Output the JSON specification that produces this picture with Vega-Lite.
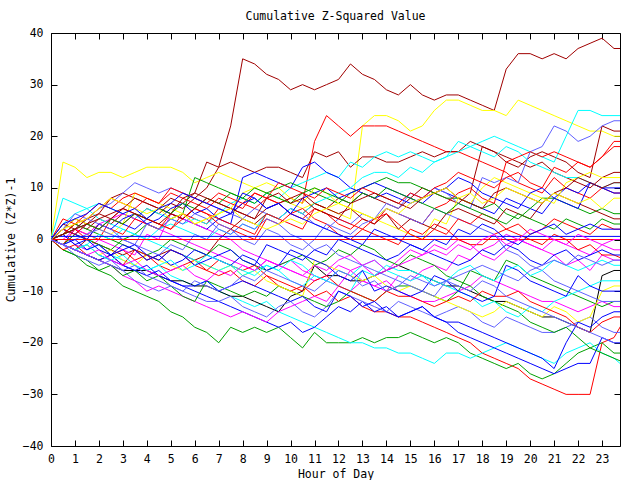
{
"$schema": "https://vega.github.io/schema/vega-lite/v6.json",
"width": 569, "height": 413,
"autosize": {"type": "none"},
"padding": {"left": 51, "top": 33, "right": 20, "bottom": 34},
"background": "white",
"title": {"text": "Cumulative Z-Squared Value", "font": "DejaVu Sans Mono", "fontSize": 11.5, "fontWeight": "normal", "color": "black", "offset": 5, "anchor": "middle"},
"config": {
  "view": {"stroke": "black", "strokeWidth": 1},
  "axis": {"labelFont": "DejaVu Sans Mono", "labelFontSize": 11.5, "titleFont": "DejaVu Sans Mono", "titleFontSize": 11.5, "titleFontWeight": "normal", "labelColor": "black", "titleColor": "black", "domain": false, "ticks": true, "tickColor": "black", "tickWidth": 1, "tickSize": 6, "offset": -6, "grid": false, "zindex": 1}
},
"data": {"values": [
{"k":1,"x":0,"y":0},{"k":1,"x":0.5,"y":1},{"k":1,"x":1,"y":3},{"k":1,"x":1.5,"y":2},{"k":1,"x":2,"y":4},{"k":1,"x":2.5,"y":3},{"k":1,"x":3,"y":5},{"k":1,"x":3.5,"y":4},{"k":1,"x":4,"y":6},{"k":1,"x":4.5,"y":5},{"k":1,"x":5,"y":7},{"k":1,"x":5.5,"y":6},{"k":1,"x":6,"y":8},{"k":1,"x":6.5,"y":10},{"k":1,"x":7,"y":14},{"k":1,"x":7.5,"y":22},{"k":1,"x":8,"y":35},{"k":1,"x":8.5,"y":34},{"k":1,"x":9,"y":32},{"k":1,"x":9.5,"y":31},{"k":1,"x":10,"y":29},{"k":1,"x":10.5,"y":30},{"k":1,"x":11,"y":29},{"k":1,"x":11.5,"y":30},{"k":1,"x":12,"y":31},{"k":1,"x":12.5,"y":34},{"k":1,"x":13,"y":32},{"k":1,"x":13.5,"y":31},{"k":1,"x":14,"y":29},{"k":1,"x":14.5,"y":28},{"k":1,"x":15,"y":30},{"k":1,"x":15.5,"y":28},{"k":1,"x":16,"y":27},{"k":1,"x":16.5,"y":28},{"k":1,"x":17,"y":28},{"k":1,"x":17.5,"y":27},{"k":1,"x":18,"y":26},{"k":1,"x":18.5,"y":25},{"k":1,"x":19,"y":33},{"k":1,"x":19.5,"y":36},{"k":1,"x":20,"y":36},{"k":1,"x":20.5,"y":35},{"k":1,"x":21,"y":36},{"k":1,"x":21.5,"y":35},{"k":1,"x":22,"y":37},{"k":1,"x":22.5,"y":38},{"k":1,"x":23,"y":39},{"k":1,"x":23.5,"y":37},{"k":1,"x":24,"y":37},
{"k":2,"x":0,"y":0},{"k":2,"x":0.5,"y":15},{"k":2,"x":1,"y":14},{"k":2,"x":1.5,"y":12},{"k":2,"x":2,"y":13},{"k":2,"x":2.5,"y":13},{"k":2,"x":3,"y":12},{"k":2,"x":3.5,"y":13},{"k":2,"x":4,"y":14},{"k":2,"x":4.5,"y":14},{"k":2,"x":5,"y":14},{"k":2,"x":5.5,"y":13},{"k":2,"x":6,"y":11},{"k":2,"x":6.5,"y":12},{"k":2,"x":7,"y":13},{"k":2,"x":7.5,"y":12},{"k":2,"x":8,"y":11},{"k":2,"x":8.5,"y":10},{"k":2,"x":9,"y":9},{"k":2,"x":9.5,"y":8},{"k":2,"x":10,"y":7},{"k":2,"x":10.5,"y":6},{"k":2,"x":11,"y":7},{"k":2,"x":11.5,"y":6},{"k":2,"x":12,"y":5},{"k":2,"x":12.5,"y":4},{"k":2,"x":13,"y":22},{"k":2,"x":13.5,"y":24},{"k":2,"x":14,"y":24},{"k":2,"x":14.5,"y":23},{"k":2,"x":15,"y":21},{"k":2,"x":15.5,"y":22},{"k":2,"x":16,"y":25},{"k":2,"x":16.5,"y":27},{"k":2,"x":17,"y":27},{"k":2,"x":17.5,"y":26},{"k":2,"x":18,"y":25},{"k":2,"x":18.5,"y":25},{"k":2,"x":19,"y":24},{"k":2,"x":19.5,"y":27},{"k":2,"x":20,"y":26},{"k":2,"x":20.5,"y":25},{"k":2,"x":21,"y":24},{"k":2,"x":21.5,"y":23},{"k":2,"x":22,"y":22},{"k":2,"x":22.5,"y":21},{"k":2,"x":23,"y":21},{"k":2,"x":23.5,"y":20},{"k":2,"x":24,"y":20},
{"k":3,"x":0,"y":0},{"k":3,"x":0.5,"y":-1},{"k":3,"x":1,"y":2},{"k":3,"x":1.5,"y":1},{"k":3,"x":2,"y":0},{"k":3,"x":2.5,"y":4},{"k":3,"x":3,"y":6},{"k":3,"x":3.5,"y":5},{"k":3,"x":4,"y":4},{"k":3,"x":4.5,"y":3},{"k":3,"x":5,"y":2},{"k":3,"x":5.5,"y":5},{"k":3,"x":6,"y":4},{"k":3,"x":6.5,"y":3},{"k":3,"x":7,"y":6},{"k":3,"x":7.5,"y":5},{"k":3,"x":8,"y":7},{"k":3,"x":8.5,"y":9},{"k":3,"x":9,"y":8},{"k":3,"x":9.5,"y":7},{"k":3,"x":10,"y":8},{"k":3,"x":10.5,"y":7},{"k":3,"x":11,"y":19},{"k":3,"x":11.5,"y":24},{"k":3,"x":12,"y":22},{"k":3,"x":12.5,"y":20},{"k":3,"x":13,"y":22},{"k":3,"x":13.5,"y":22},{"k":3,"x":14,"y":22},{"k":3,"x":14.5,"y":21},{"k":3,"x":15,"y":20},{"k":3,"x":15.5,"y":19},{"k":3,"x":16,"y":18},{"k":3,"x":16.5,"y":17},{"k":3,"x":17,"y":17},{"k":3,"x":17.5,"y":16},{"k":3,"x":18,"y":15},{"k":3,"x":18.5,"y":14},{"k":3,"x":19,"y":13},{"k":3,"x":19.5,"y":11},{"k":3,"x":20,"y":10},{"k":3,"x":20.5,"y":9},{"k":3,"x":21,"y":12},{"k":3,"x":21.5,"y":10},{"k":3,"x":22,"y":9},{"k":3,"x":22.5,"y":8},{"k":3,"x":23,"y":10},{"k":3,"x":23.5,"y":9},{"k":3,"x":24,"y":9},
{"k":4,"x":0,"y":0},{"k":4,"x":0.5,"y":2},{"k":4,"x":1,"y":4},{"k":4,"x":1.5,"y":3},{"k":4,"x":2,"y":5},{"k":4,"x":2.5,"y":8},{"k":4,"x":3,"y":9},{"k":4,"x":3.5,"y":8},{"k":4,"x":4,"y":7},{"k":4,"x":4.5,"y":6},{"k":4,"x":5,"y":8},{"k":4,"x":5.5,"y":7},{"k":4,"x":6,"y":9},{"k":4,"x":6.5,"y":15},{"k":4,"x":7,"y":14},{"k":4,"x":7.5,"y":15},{"k":4,"x":8,"y":14},{"k":4,"x":8.5,"y":13},{"k":4,"x":9,"y":14},{"k":4,"x":9.5,"y":14},{"k":4,"x":10,"y":13},{"k":4,"x":10.5,"y":12},{"k":4,"x":11,"y":17},{"k":4,"x":11.5,"y":16},{"k":4,"x":12,"y":17},{"k":4,"x":12.5,"y":14},{"k":4,"x":13,"y":16},{"k":4,"x":13.5,"y":16},{"k":4,"x":14,"y":15},{"k":4,"x":14.5,"y":15},{"k":4,"x":15,"y":16},{"k":4,"x":15.5,"y":17},{"k":4,"x":16,"y":16},{"k":4,"x":16.5,"y":17},{"k":4,"x":17,"y":17},{"k":4,"x":17.5,"y":19},{"k":4,"x":18,"y":18},{"k":4,"x":18.5,"y":17},{"k":4,"x":19,"y":16},{"k":4,"x":19.5,"y":15},{"k":4,"x":20,"y":14},{"k":4,"x":20.5,"y":15},{"k":4,"x":21,"y":13},{"k":4,"x":21.5,"y":12},{"k":4,"x":22,"y":11},{"k":4,"x":22.5,"y":10},{"k":4,"x":23,"y":12},{"k":4,"x":23.5,"y":13},{"k":4,"x":24,"y":13},
{"k":5,"x":0,"y":0},{"k":5,"x":0.5,"y":-1},{"k":5,"x":1,"y":-2},{"k":5,"x":1.5,"y":0},{"k":5,"x":2,"y":-1},{"k":5,"x":2.5,"y":-2},{"k":5,"x":3,"y":-3},{"k":5,"x":3.5,"y":-2},{"k":5,"x":4,"y":-4},{"k":5,"x":4.5,"y":-3},{"k":5,"x":5,"y":-2},{"k":5,"x":5.5,"y":-3},{"k":5,"x":6,"y":-4},{"k":5,"x":6.5,"y":-3},{"k":5,"x":7,"y":0},{"k":5,"x":7.5,"y":2},{"k":5,"x":8,"y":4},{"k":5,"x":8.5,"y":3},{"k":5,"x":9,"y":5},{"k":5,"x":9.5,"y":4},{"k":5,"x":10,"y":6},{"k":5,"x":10.5,"y":5},{"k":5,"x":11,"y":7},{"k":5,"x":11.5,"y":6},{"k":5,"x":12,"y":8},{"k":5,"x":12.5,"y":7},{"k":5,"x":13,"y":9},{"k":5,"x":13.5,"y":8},{"k":5,"x":14,"y":7},{"k":5,"x":14.5,"y":6},{"k":5,"x":15,"y":8},{"k":5,"x":15.5,"y":10},{"k":5,"x":16,"y":9},{"k":5,"x":16.5,"y":8},{"k":5,"x":17,"y":7},{"k":5,"x":17.5,"y":9},{"k":5,"x":18,"y":18},{"k":5,"x":18.5,"y":17},{"k":5,"x":19,"y":15},{"k":5,"x":19.5,"y":14},{"k":5,"x":20,"y":16},{"k":5,"x":20.5,"y":17},{"k":5,"x":21,"y":16},{"k":5,"x":21.5,"y":15},{"k":5,"x":22,"y":13},{"k":5,"x":22.5,"y":12},{"k":5,"x":23,"y":22},{"k":5,"x":23.5,"y":21},{"k":5,"x":24,"y":21},
{"k":6,"x":0,"y":0},{"k":6,"x":0.5,"y":3},{"k":6,"x":1,"y":5},{"k":6,"x":1.5,"y":6},{"k":6,"x":2,"y":7},{"k":6,"x":2.5,"y":6},{"k":6,"x":3,"y":5},{"k":6,"x":3.5,"y":4},{"k":6,"x":4,"y":6},{"k":6,"x":4.5,"y":5},{"k":6,"x":5,"y":4},{"k":6,"x":5.5,"y":3},{"k":6,"x":6,"y":4},{"k":6,"x":6.5,"y":3},{"k":6,"x":7,"y":5},{"k":6,"x":7.5,"y":7},{"k":6,"x":8,"y":8},{"k":6,"x":8.5,"y":7},{"k":6,"x":9,"y":9},{"k":6,"x":9.5,"y":8},{"k":6,"x":10,"y":10},{"k":6,"x":10.5,"y":11},{"k":6,"x":11,"y":12},{"k":6,"x":11.5,"y":13},{"k":6,"x":12,"y":12},{"k":6,"x":12.5,"y":15},{"k":6,"x":13,"y":14},{"k":6,"x":13.5,"y":16},{"k":6,"x":14,"y":17},{"k":6,"x":14.5,"y":16},{"k":6,"x":15,"y":17},{"k":6,"x":15.5,"y":16},{"k":6,"x":16,"y":15},{"k":6,"x":16.5,"y":16},{"k":6,"x":17,"y":17},{"k":6,"x":17.5,"y":18},{"k":6,"x":18,"y":19},{"k":6,"x":18.5,"y":20},{"k":6,"x":19,"y":19},{"k":6,"x":19.5,"y":18},{"k":6,"x":20,"y":17},{"k":6,"x":20.5,"y":16},{"k":6,"x":21,"y":15},{"k":6,"x":21.5,"y":20},{"k":6,"x":22,"y":25},{"k":6,"x":22.5,"y":25},{"k":6,"x":23,"y":24},{"k":6,"x":23.5,"y":24},{"k":6,"x":24,"y":24},
{"k":7,"x":0,"y":0},{"k":7,"x":0.5,"y":-1},{"k":7,"x":1,"y":1},{"k":7,"x":1.5,"y":0},{"k":7,"x":2,"y":-1},{"k":7,"x":2.5,"y":-3},{"k":7,"x":3,"y":-2},{"k":7,"x":3.5,"y":-4},{"k":7,"x":4,"y":-3},{"k":7,"x":4.5,"y":-5},{"k":7,"x":5,"y":-6},{"k":7,"x":5.5,"y":-5},{"k":7,"x":6,"y":-4},{"k":7,"x":6.5,"y":-6},{"k":7,"x":7,"y":-7},{"k":7,"x":7.5,"y":-6},{"k":7,"x":8,"y":-8},{"k":7,"x":8.5,"y":-9},{"k":7,"x":9,"y":-7},{"k":7,"x":9.5,"y":-9},{"k":7,"x":10,"y":-10},{"k":7,"x":10.5,"y":-9},{"k":7,"x":11,"y":-11},{"k":7,"x":11.5,"y":-10},{"k":7,"x":12,"y":-12},{"k":7,"x":12.5,"y":-11},{"k":7,"x":13,"y":-13},{"k":7,"x":13.5,"y":-14},{"k":7,"x":14,"y":-14},{"k":7,"x":14.5,"y":-15},{"k":7,"x":15,"y":-15},{"k":7,"x":15.5,"y":-16},{"k":7,"x":16,"y":-17},{"k":7,"x":16.5,"y":-18},{"k":7,"x":17,"y":-19},{"k":7,"x":17.5,"y":-20},{"k":7,"x":18,"y":-22},{"k":7,"x":18.5,"y":-23},{"k":7,"x":19,"y":-24},{"k":7,"x":19.5,"y":-25},{"k":7,"x":20,"y":-27},{"k":7,"x":20.5,"y":-28},{"k":7,"x":21,"y":-29},{"k":7,"x":21.5,"y":-30},{"k":7,"x":22,"y":-30},{"k":7,"x":22.5,"y":-30},{"k":7,"x":23,"y":-20},{"k":7,"x":23.5,"y":-19},{"k":7,"x":24,"y":-15},
{"k":8,"x":0,"y":0},{"k":8,"x":0.5,"y":-2},{"k":8,"x":1,"y":-3},{"k":8,"x":1.5,"y":-4},{"k":8,"x":2,"y":-6},{"k":8,"x":2.5,"y":-7},{"k":8,"x":3,"y":-9},{"k":8,"x":3.5,"y":-10},{"k":8,"x":4,"y":-11},{"k":8,"x":4.5,"y":-12},{"k":8,"x":5,"y":-14},{"k":8,"x":5.5,"y":-15},{"k":8,"x":6,"y":-17},{"k":8,"x":6.5,"y":-18},{"k":8,"x":7,"y":-20},{"k":8,"x":7.5,"y":-17},{"k":8,"x":8,"y":-18},{"k":8,"x":8.5,"y":-17},{"k":8,"x":9,"y":-18},{"k":8,"x":9.5,"y":-17},{"k":8,"x":10,"y":-19},{"k":8,"x":10.5,"y":-21},{"k":8,"x":11,"y":-18},{"k":8,"x":11.5,"y":-20},{"k":8,"x":12,"y":-20},{"k":8,"x":12.5,"y":-20},{"k":8,"x":13,"y":-19},{"k":8,"x":13.5,"y":-20},{"k":8,"x":14,"y":-19},{"k":8,"x":14.5,"y":-19},{"k":8,"x":15,"y":-18},{"k":8,"x":15.5,"y":-19},{"k":8,"x":16,"y":-20},{"k":8,"x":16.5,"y":-19},{"k":8,"x":17,"y":-20},{"k":8,"x":17.5,"y":-22},{"k":8,"x":18,"y":-23},{"k":8,"x":18.5,"y":-24},{"k":8,"x":19,"y":-25},{"k":8,"x":19.5,"y":-24},{"k":8,"x":20,"y":-26},{"k":8,"x":20.5,"y":-27},{"k":8,"x":21,"y":-26},{"k":8,"x":21.5,"y":-24},{"k":8,"x":22,"y":-22},{"k":8,"x":22.5,"y":-21},{"k":8,"x":23,"y":-20},{"k":8,"x":23.5,"y":-22},{"k":8,"x":24,"y":-22},
{"k":9,"x":0,"y":0},{"k":9,"x":0.5,"y":1},{"k":9,"x":1,"y":-1},{"k":9,"x":1.5,"y":-2},{"k":9,"x":2,"y":-1},{"k":9,"x":2.5,"y":-3},{"k":9,"x":3,"y":-4},{"k":9,"x":3.5,"y":-5},{"k":9,"x":4,"y":-6},{"k":9,"x":4.5,"y":-5},{"k":9,"x":5,"y":-7},{"k":9,"x":5.5,"y":-8},{"k":9,"x":6,"y":-9},{"k":9,"x":6.5,"y":-8},{"k":9,"x":7,"y":-10},{"k":9,"x":7.5,"y":-11},{"k":9,"x":8,"y":-12},{"k":9,"x":8.5,"y":-13},{"k":9,"x":9,"y":-12},{"k":9,"x":9.5,"y":-14},{"k":9,"x":10,"y":-15},{"k":9,"x":10.5,"y":-16},{"k":9,"x":11,"y":-17},{"k":9,"x":11.5,"y":-18},{"k":9,"x":12,"y":-19},{"k":9,"x":12.5,"y":-20},{"k":9,"x":13,"y":-20},{"k":9,"x":13.5,"y":-21},{"k":9,"x":14,"y":-21},{"k":9,"x":14.5,"y":-22},{"k":9,"x":15,"y":-22},{"k":9,"x":15.5,"y":-23},{"k":9,"x":16,"y":-24},{"k":9,"x":16.5,"y":-22},{"k":9,"x":17,"y":-22},{"k":9,"x":17.5,"y":-23},{"k":9,"x":18,"y":-22},{"k":9,"x":18.5,"y":-21},{"k":9,"x":19,"y":-20},{"k":9,"x":19.5,"y":-21},{"k":9,"x":20,"y":-22},{"k":9,"x":20.5,"y":-23},{"k":9,"x":21,"y":-24},{"k":9,"x":21.5,"y":-22},{"k":9,"x":22,"y":-21},{"k":9,"x":22.5,"y":-20},{"k":9,"x":23,"y":-22},{"k":9,"x":23.5,"y":-23},{"k":9,"x":24,"y":-25},
{"k":10,"x":0,"y":0},{"k":10,"x":0.5,"y":-1},{"k":10,"x":1,"y":-2},{"k":10,"x":1.5,"y":-3},{"k":10,"x":2,"y":-4},{"k":10,"x":2.5,"y":-5},{"k":10,"x":3,"y":-6},{"k":10,"x":3.5,"y":-6},{"k":10,"x":4,"y":-6},{"k":10,"x":4.5,"y":-7},{"k":10,"x":5,"y":-8},{"k":10,"x":5.5,"y":-8},{"k":10,"x":6,"y":-9},{"k":10,"x":6.5,"y":-9},{"k":10,"x":7,"y":-10},{"k":10,"x":7.5,"y":-11},{"k":10,"x":8,"y":-11},{"k":10,"x":8.5,"y":-12},{"k":10,"x":9,"y":-13},{"k":10,"x":9.5,"y":-14},{"k":10,"x":10,"y":-11},{"k":10,"x":10.5,"y":-10},{"k":10,"x":11,"y":-5},{"k":10,"x":11.5,"y":-7},{"k":10,"x":12,"y":-7},{"k":10,"x":12.5,"y":-8},{"k":10,"x":13,"y":-8},{"k":10,"x":13.5,"y":-7},{"k":10,"x":14,"y":-6},{"k":10,"x":14.5,"y":-5},{"k":10,"x":15,"y":-6},{"k":10,"x":15.5,"y":-7},{"k":10,"x":16,"y":-8},{"k":10,"x":16.5,"y":-9},{"k":10,"x":17,"y":-9},{"k":10,"x":17.5,"y":-10},{"k":10,"x":18,"y":-11},{"k":10,"x":18.5,"y":-12},{"k":10,"x":19,"y":-12},{"k":10,"x":19.5,"y":-13},{"k":10,"x":20,"y":-14},{"k":10,"x":20.5,"y":-15},{"k":10,"x":21,"y":-15},{"k":10,"x":21.5,"y":-16},{"k":10,"x":22,"y":-17},{"k":10,"x":22.5,"y":-18},{"k":10,"x":23,"y":-7},{"k":10,"x":23.5,"y":-6},{"k":10,"x":24,"y":-6},
{"k":11,"x":0,"y":0},{"k":11,"x":0.5,"y":2},{"k":11,"x":1,"y":1},{"k":11,"x":1.5,"y":3},{"k":11,"x":2,"y":2},{"k":11,"x":2.5,"y":4},{"k":11,"x":3,"y":3},{"k":11,"x":3.5,"y":2},{"k":11,"x":4,"y":4},{"k":11,"x":4.5,"y":6},{"k":11,"x":5,"y":5},{"k":11,"x":5.5,"y":4},{"k":11,"x":6,"y":3},{"k":11,"x":6.5,"y":2},{"k":11,"x":7,"y":4},{"k":11,"x":7.5,"y":3},{"k":11,"x":8,"y":12},{"k":11,"x":8.5,"y":13},{"k":11,"x":9,"y":12},{"k":11,"x":9.5,"y":11},{"k":11,"x":10,"y":10},{"k":11,"x":10.5,"y":14},{"k":11,"x":11,"y":15},{"k":11,"x":11.5,"y":13},{"k":11,"x":12,"y":12},{"k":11,"x":12.5,"y":10},{"k":11,"x":13,"y":9},{"k":11,"x":13.5,"y":8},{"k":11,"x":14,"y":9},{"k":11,"x":14.5,"y":8},{"k":11,"x":15,"y":7},{"k":11,"x":15.5,"y":8},{"k":11,"x":16,"y":10},{"k":11,"x":16.5,"y":9},{"k":11,"x":17,"y":8},{"k":11,"x":17.5,"y":7},{"k":11,"x":18,"y":6},{"k":11,"x":18.5,"y":5},{"k":11,"x":19,"y":8},{"k":11,"x":19.5,"y":7},{"k":11,"x":20,"y":6},{"k":11,"x":20.5,"y":5},{"k":11,"x":21,"y":8},{"k":11,"x":21.5,"y":10},{"k":11,"x":22,"y":9},{"k":11,"x":22.5,"y":11},{"k":11,"x":23,"y":10},{"k":11,"x":23.5,"y":10},{"k":11,"x":24,"y":10},
{"k":12,"x":0,"y":0},{"k":12,"x":0.5,"y":1},{"k":12,"x":1,"y":2},{"k":12,"x":1.5,"y":4},{"k":12,"x":2,"y":6},{"k":12,"x":2.5,"y":7},{"k":12,"x":3,"y":9},{"k":12,"x":3.5,"y":11},{"k":12,"x":4,"y":10},{"k":12,"x":4.5,"y":9},{"k":12,"x":5,"y":10},{"k":12,"x":5.5,"y":9},{"k":12,"x":6,"y":8},{"k":12,"x":6.5,"y":7},{"k":12,"x":7,"y":6},{"k":12,"x":7.5,"y":5},{"k":12,"x":8,"y":4},{"k":12,"x":8.5,"y":6},{"k":12,"x":9,"y":5},{"k":12,"x":9.5,"y":4},{"k":12,"x":10,"y":6},{"k":12,"x":10.5,"y":5},{"k":12,"x":11,"y":3},{"k":12,"x":11.5,"y":2},{"k":12,"x":12,"y":4},{"k":12,"x":12.5,"y":3},{"k":12,"x":13,"y":5},{"k":12,"x":13.5,"y":4},{"k":12,"x":14,"y":7},{"k":12,"x":14.5,"y":6},{"k":12,"x":15,"y":9},{"k":12,"x":15.5,"y":8},{"k":12,"x":16,"y":10},{"k":12,"x":16.5,"y":9},{"k":12,"x":17,"y":7},{"k":12,"x":17.5,"y":6},{"k":12,"x":18,"y":12},{"k":12,"x":18.5,"y":11},{"k":12,"x":19,"y":12},{"k":12,"x":19.5,"y":11},{"k":12,"x":20,"y":17},{"k":12,"x":20.5,"y":18},{"k":12,"x":21,"y":22},{"k":12,"x":21.5,"y":21},{"k":12,"x":22,"y":19},{"k":12,"x":22.5,"y":20},{"k":12,"x":23,"y":22},{"k":12,"x":23.5,"y":23},{"k":12,"x":24,"y":23},
{"k":13,"x":0,"y":0},{"k":13,"x":0.5,"y":-1},{"k":13,"x":1,"y":-2},{"k":13,"x":1.5,"y":-1},{"k":13,"x":2,"y":-3},{"k":13,"x":2.5,"y":-4},{"k":13,"x":3,"y":-5},{"k":13,"x":3.5,"y":-6},{"k":13,"x":4,"y":-7},{"k":13,"x":4.5,"y":-6},{"k":13,"x":5,"y":-8},{"k":13,"x":5.5,"y":-9},{"k":13,"x":6,"y":-10},{"k":13,"x":6.5,"y":-11},{"k":13,"x":7,"y":-12},{"k":13,"x":7.5,"y":-13},{"k":13,"x":8,"y":-14},{"k":13,"x":8.5,"y":-15},{"k":13,"x":9,"y":-16},{"k":13,"x":9.5,"y":-17},{"k":13,"x":10,"y":-16},{"k":13,"x":10.5,"y":-18},{"k":13,"x":11,"y":-17},{"k":13,"x":11.5,"y":-15},{"k":13,"x":12,"y":-13},{"k":13,"x":12.5,"y":-14},{"k":13,"x":13,"y":-12},{"k":13,"x":13.5,"y":-14},{"k":13,"x":14,"y":-13},{"k":13,"x":14.5,"y":-15},{"k":13,"x":15,"y":-14},{"k":13,"x":15.5,"y":-13},{"k":13,"x":16,"y":-15},{"k":13,"x":16.5,"y":-16},{"k":13,"x":17,"y":-18},{"k":13,"x":17.5,"y":-19},{"k":13,"x":18,"y":-20},{"k":13,"x":18.5,"y":-21},{"k":13,"x":19,"y":-22},{"k":13,"x":19.5,"y":-23},{"k":13,"x":20,"y":-24},{"k":13,"x":20.5,"y":-25},{"k":13,"x":21,"y":-26},{"k":13,"x":21.5,"y":-25},{"k":13,"x":22,"y":-24},{"k":13,"x":22.5,"y":-24},{"k":13,"x":23,"y":-19},{"k":13,"x":23.5,"y":-20},{"k":13,"x":24,"y":-20},
{"k":14,"x":0,"y":0},{"k":14,"x":0.5,"y":-1},{"k":14,"x":1,"y":-3},{"k":14,"x":1.5,"y":-4},{"k":14,"x":2,"y":-5},{"k":14,"x":2.5,"y":-4},{"k":14,"x":3,"y":-6},{"k":14,"x":3.5,"y":-8},{"k":14,"x":4,"y":-9},{"k":14,"x":4.5,"y":-10},{"k":14,"x":5,"y":-9},{"k":14,"x":5.5,"y":-10},{"k":14,"x":6,"y":-11},{"k":14,"x":6.5,"y":-12},{"k":14,"x":7,"y":-12},{"k":14,"x":7.5,"y":-11},{"k":14,"x":8,"y":-13},{"k":14,"x":8.5,"y":-14},{"k":14,"x":9,"y":-15},{"k":14,"x":9.5,"y":-13},{"k":14,"x":10,"y":-12},{"k":14,"x":10.5,"y":-14},{"k":14,"x":11,"y":-15},{"k":14,"x":11.5,"y":-13},{"k":14,"x":12,"y":-10},{"k":14,"x":12.5,"y":-11},{"k":14,"x":13,"y":-12},{"k":14,"x":13.5,"y":-13},{"k":14,"x":14,"y":-14},{"k":14,"x":14.5,"y":-12},{"k":14,"x":15,"y":-13},{"k":14,"x":15.5,"y":-14},{"k":14,"x":16,"y":-15},{"k":14,"x":16.5,"y":-14},{"k":14,"x":17,"y":-13},{"k":14,"x":17.5,"y":-14},{"k":14,"x":18,"y":-16},{"k":14,"x":18.5,"y":-17},{"k":14,"x":19,"y":-15},{"k":14,"x":19.5,"y":-16},{"k":14,"x":20,"y":-17},{"k":14,"x":20.5,"y":-18},{"k":14,"x":21,"y":-18},{"k":14,"x":21.5,"y":-17},{"k":14,"x":22,"y":-16},{"k":14,"x":22.5,"y":-15},{"k":14,"x":23,"y":-17},{"k":14,"x":23.5,"y":-18},{"k":14,"x":24,"y":-18},
{"k":15,"x":0,"y":0},{"k":15,"x":0.5,"y":-1},{"k":15,"x":1,"y":-2},{"k":15,"x":1.5,"y":-3},{"k":15,"x":2,"y":-4},{"k":15,"x":2.5,"y":-5},{"k":15,"x":3,"y":-7},{"k":15,"x":3.5,"y":-8},{"k":15,"x":4,"y":-10},{"k":15,"x":4.5,"y":-9},{"k":15,"x":5,"y":-10},{"k":15,"x":5.5,"y":-11},{"k":15,"x":6,"y":-12},{"k":15,"x":6.5,"y":-13},{"k":15,"x":7,"y":-14},{"k":15,"x":7.5,"y":-15},{"k":15,"x":8,"y":-14},{"k":15,"x":8.5,"y":-15},{"k":15,"x":9,"y":-16},{"k":15,"x":9.5,"y":-14},{"k":15,"x":10,"y":-13},{"k":15,"x":10.5,"y":-12},{"k":15,"x":11,"y":-11},{"k":15,"x":11.5,"y":-12},{"k":15,"x":12,"y":-9},{"k":15,"x":12.5,"y":-6},{"k":15,"x":13,"y":-5},{"k":15,"x":13.5,"y":-7},{"k":15,"x":14,"y":-6},{"k":15,"x":14.5,"y":-4},{"k":15,"x":15,"y":-2},{"k":15,"x":15.5,"y":-3},{"k":15,"x":16,"y":-1},{"k":15,"x":16.5,"y":-2},{"k":15,"x":17,"y":0},{"k":15,"x":17.5,"y":-1},{"k":15,"x":18,"y":-3},{"k":15,"x":18.5,"y":-4},{"k":15,"x":19,"y":-2},{"k":15,"x":19.5,"y":0},{"k":15,"x":20,"y":-1},{"k":15,"x":20.5,"y":-2},{"k":15,"x":21,"y":-3},{"k":15,"x":21.5,"y":-5},{"k":15,"x":22,"y":-4},{"k":15,"x":22.5,"y":-6},{"k":15,"x":23,"y":-3},{"k":15,"x":23.5,"y":-4},{"k":15,"x":24,"y":-4},
{"k":16,"x":0,"y":0},{"k":16,"x":0.5,"y":1},{"k":16,"x":1,"y":-1},{"k":16,"x":1.5,"y":-2},{"k":16,"x":2,"y":0},{"k":16,"x":2.5,"y":-1},{"k":16,"x":3,"y":-2},{"k":16,"x":3.5,"y":-3},{"k":16,"x":4,"y":1},{"k":16,"x":4.5,"y":0},{"k":16,"x":5,"y":5},{"k":16,"x":5.5,"y":4},{"k":16,"x":6,"y":3},{"k":16,"x":6.5,"y":2},{"k":16,"x":7,"y":1},{"k":16,"x":7.5,"y":0},{"k":16,"x":8,"y":-2},{"k":16,"x":8.5,"y":-3},{"k":16,"x":9,"y":-4},{"k":16,"x":9.5,"y":-5},{"k":16,"x":10,"y":-4},{"k":16,"x":10.5,"y":-6},{"k":16,"x":11,"y":-7},{"k":16,"x":11.5,"y":-8},{"k":16,"x":12,"y":-9},{"k":16,"x":12.5,"y":-10},{"k":16,"x":13,"y":-8},{"k":16,"x":13.5,"y":-9},{"k":16,"x":14,"y":-10},{"k":16,"x":14.5,"y":-7},{"k":16,"x":15,"y":-8},{"k":16,"x":15.5,"y":-6},{"k":16,"x":16,"y":-5},{"k":16,"x":16.5,"y":-6},{"k":16,"x":17,"y":-3},{"k":16,"x":17.5,"y":-4},{"k":16,"x":18,"y":-2},{"k":16,"x":18.5,"y":-1},{"k":16,"x":19,"y":1},{"k":16,"x":19.5,"y":0},{"k":16,"x":20,"y":-1},{"k":16,"x":20.5,"y":-2},{"k":16,"x":21,"y":0},{"k":16,"x":21.5,"y":-1},{"k":16,"x":22,"y":-2},{"k":16,"x":22.5,"y":-3},{"k":16,"x":23,"y":-1},{"k":16,"x":23.5,"y":-2},{"k":16,"x":24,"y":-2},
{"k":17,"x":0,"y":0},{"k":17,"x":0.5,"y":0},{"k":17,"x":1,"y":2},{"k":17,"x":1.5,"y":1},{"k":17,"x":2,"y":3},{"k":17,"x":2.5,"y":4},{"k":17,"x":3,"y":5},{"k":17,"x":3.5,"y":4},{"k":17,"x":4,"y":3},{"k":17,"x":4.5,"y":2},{"k":17,"x":5,"y":1},{"k":17,"x":5.5,"y":0},{"k":17,"x":6,"y":-1},{"k":17,"x":6.5,"y":-2},{"k":17,"x":7,"y":-3},{"k":17,"x":7.5,"y":-4},{"k":17,"x":8,"y":-5},{"k":17,"x":8.5,"y":-6},{"k":17,"x":9,"y":-4},{"k":17,"x":9.5,"y":-5},{"k":17,"x":10,"y":-6},{"k":17,"x":10.5,"y":-7},{"k":17,"x":11,"y":-8},{"k":17,"x":11.5,"y":-7},{"k":17,"x":12,"y":-5},{"k":17,"x":12.5,"y":-6},{"k":17,"x":13,"y":-8},{"k":17,"x":13.5,"y":-9},{"k":17,"x":14,"y":-8},{"k":17,"x":14.5,"y":-10},{"k":17,"x":15,"y":-11},{"k":17,"x":15.5,"y":-12},{"k":17,"x":16,"y":-12},{"k":17,"x":16.5,"y":-11},{"k":17,"x":17,"y":-10},{"k":17,"x":17.5,"y":-9},{"k":17,"x":18,"y":-7},{"k":17,"x":18.5,"y":-8},{"k":17,"x":19,"y":-9},{"k":17,"x":19.5,"y":-10},{"k":17,"x":20,"y":-11},{"k":17,"x":20.5,"y":-12},{"k":17,"x":21,"y":-12},{"k":17,"x":21.5,"y":-13},{"k":17,"x":22,"y":-14},{"k":17,"x":22.5,"y":-13},{"k":17,"x":23,"y":-12},{"k":17,"x":23.5,"y":-13},{"k":17,"x":24,"y":-13},
{"k":18,"x":0,"y":0},{"k":18,"x":0.5,"y":-1},{"k":18,"x":1,"y":1},{"k":18,"x":1.5,"y":0},{"k":18,"x":2,"y":-1},{"k":18,"x":2.5,"y":-2},{"k":18,"x":3,"y":0},{"k":18,"x":3.5,"y":1},{"k":18,"x":4,"y":3},{"k":18,"x":4.5,"y":2},{"k":18,"x":5,"y":4},{"k":18,"x":5.5,"y":5},{"k":18,"x":6,"y":12},{"k":18,"x":6.5,"y":11},{"k":18,"x":7,"y":10},{"k":18,"x":7.5,"y":9},{"k":18,"x":8,"y":8},{"k":18,"x":8.5,"y":7},{"k":18,"x":9,"y":9},{"k":18,"x":9.5,"y":10},{"k":18,"x":10,"y":11},{"k":18,"x":10.5,"y":10},{"k":18,"x":11,"y":9},{"k":18,"x":11.5,"y":8},{"k":18,"x":12,"y":7},{"k":18,"x":12.5,"y":9},{"k":18,"x":13,"y":10},{"k":18,"x":13.5,"y":11},{"k":18,"x":14,"y":12},{"k":18,"x":14.5,"y":11},{"k":18,"x":15,"y":11},{"k":18,"x":15.5,"y":10},{"k":18,"x":16,"y":9},{"k":18,"x":16.5,"y":8},{"k":18,"x":17,"y":8},{"k":18,"x":17.5,"y":7},{"k":18,"x":18,"y":6},{"k":18,"x":18.5,"y":7},{"k":18,"x":19,"y":5},{"k":18,"x":19.5,"y":4},{"k":18,"x":20,"y":6},{"k":18,"x":20.5,"y":8},{"k":18,"x":21,"y":8},{"k":18,"x":21.5,"y":7},{"k":18,"x":22,"y":6},{"k":18,"x":22.5,"y":5},{"k":18,"x":23,"y":6},{"k":18,"x":23.5,"y":5},{"k":18,"x":24,"y":5},
{"k":19,"x":0,"y":0},{"k":19,"x":0.5,"y":-2},{"k":19,"x":1,"y":-3},{"k":19,"x":1.5,"y":-5},{"k":19,"x":2,"y":-6},{"k":19,"x":2.5,"y":-5},{"k":19,"x":3,"y":-7},{"k":19,"x":3.5,"y":-6},{"k":19,"x":4,"y":-8},{"k":19,"x":4.5,"y":-7},{"k":19,"x":5,"y":-9},{"k":19,"x":5.5,"y":-11},{"k":19,"x":6,"y":-12},{"k":19,"x":6.5,"y":-8},{"k":19,"x":7,"y":-9},{"k":19,"x":7.5,"y":-10},{"k":19,"x":8,"y":-11},{"k":19,"x":8.5,"y":-10},{"k":19,"x":9,"y":-11},{"k":19,"x":9.5,"y":-9},{"k":19,"x":10,"y":-10},{"k":19,"x":10.5,"y":-11},{"k":19,"x":11,"y":-12},{"k":19,"x":11.5,"y":-13},{"k":19,"x":12,"y":-12},{"k":19,"x":12.5,"y":-10},{"k":19,"x":13,"y":-11},{"k":19,"x":13.5,"y":-12},{"k":19,"x":14,"y":-10},{"k":19,"x":14.5,"y":-9},{"k":19,"x":15,"y":-9},{"k":19,"x":15.5,"y":-10},{"k":19,"x":16,"y":-11},{"k":19,"x":16.5,"y":-12},{"k":19,"x":17,"y":-10},{"k":19,"x":17.5,"y":-6},{"k":19,"x":18,"y":-7},{"k":19,"x":18.5,"y":-8},{"k":19,"x":19,"y":-4},{"k":19,"x":19.5,"y":-5},{"k":19,"x":20,"y":-7},{"k":19,"x":20.5,"y":-8},{"k":19,"x":21,"y":-9},{"k":19,"x":21.5,"y":-10},{"k":19,"x":22,"y":-11},{"k":19,"x":22.5,"y":-12},{"k":19,"x":23,"y":-13},{"k":19,"x":23.5,"y":-12},{"k":19,"x":24,"y":-12},
{"k":20,"x":0,"y":0},{"k":20,"x":0.5,"y":1},{"k":20,"x":1,"y":3},{"k":20,"x":1.5,"y":2},{"k":20,"x":2,"y":1},{"k":20,"x":2.5,"y":0},{"k":20,"x":3,"y":-1},{"k":20,"x":3.5,"y":-2},{"k":20,"x":4,"y":-3},{"k":20,"x":4.5,"y":-2},{"k":20,"x":5,"y":0},{"k":20,"x":5.5,"y":-1},{"k":20,"x":6,"y":-2},{"k":20,"x":6.5,"y":-3},{"k":20,"x":7,"y":-1},{"k":20,"x":7.5,"y":-2},{"k":20,"x":8,"y":-4},{"k":20,"x":8.5,"y":-5},{"k":20,"x":9,"y":-6},{"k":20,"x":9.5,"y":-5},{"k":20,"x":10,"y":-4},{"k":20,"x":10.5,"y":-3},{"k":20,"x":11,"y":-5},{"k":20,"x":11.5,"y":-4},{"k":20,"x":12,"y":-2},{"k":20,"x":12.5,"y":-3},{"k":20,"x":13,"y":-1},{"k":20,"x":13.5,"y":-2},{"k":20,"x":14,"y":-4},{"k":20,"x":14.5,"y":-5},{"k":20,"x":15,"y":-3},{"k":20,"x":15.5,"y":-4},{"k":20,"x":16,"y":-5},{"k":20,"x":16.5,"y":-7},{"k":20,"x":17,"y":-8},{"k":20,"x":17.5,"y":-9},{"k":20,"x":18,"y":-11},{"k":20,"x":18.5,"y":-12},{"k":20,"x":19,"y":-13},{"k":20,"x":19.5,"y":-14},{"k":20,"x":20,"y":-16},{"k":20,"x":20.5,"y":-17},{"k":20,"x":21,"y":-18},{"k":20,"x":21.5,"y":-17},{"k":20,"x":22,"y":-19},{"k":20,"x":22.5,"y":-21},{"k":20,"x":23,"y":-22},{"k":20,"x":23.5,"y":-23},{"k":20,"x":24,"y":-24},
{"k":21,"x":0,"y":0},{"k":21,"x":0.5,"y":2},{"k":21,"x":1,"y":4},{"k":21,"x":1.5,"y":3},{"k":21,"x":2,"y":2},{"k":21,"x":2.5,"y":1},{"k":21,"x":3,"y":3},{"k":21,"x":3.5,"y":9},{"k":21,"x":4,"y":8},{"k":21,"x":4.5,"y":7},{"k":21,"x":5,"y":6},{"k":21,"x":5.5,"y":5},{"k":21,"x":6,"y":3},{"k":21,"x":6.5,"y":4},{"k":21,"x":7,"y":5},{"k":21,"x":7.5,"y":6},{"k":21,"x":8,"y":9},{"k":21,"x":8.5,"y":10},{"k":21,"x":9,"y":11},{"k":21,"x":9.5,"y":10},{"k":21,"x":10,"y":8},{"k":21,"x":10.5,"y":7},{"k":21,"x":11,"y":10},{"k":21,"x":11.5,"y":9},{"k":21,"x":12,"y":7},{"k":21,"x":12.5,"y":6},{"k":21,"x":13,"y":5},{"k":21,"x":13.5,"y":4},{"k":21,"x":14,"y":3},{"k":21,"x":14.5,"y":2},{"k":21,"x":15,"y":1},{"k":21,"x":15.5,"y":0},{"k":21,"x":16,"y":4},{"k":21,"x":16.5,"y":3},{"k":21,"x":17,"y":8},{"k":21,"x":17.5,"y":7},{"k":21,"x":18,"y":10},{"k":21,"x":18.5,"y":12},{"k":21,"x":19,"y":11},{"k":21,"x":19.5,"y":10},{"k":21,"x":20,"y":9},{"k":21,"x":20.5,"y":8},{"k":21,"x":21,"y":7},{"k":21,"x":21.5,"y":11},{"k":21,"x":22,"y":12},{"k":21,"x":22.5,"y":13},{"k":21,"x":23,"y":12},{"k":21,"x":23.5,"y":12},{"k":21,"x":24,"y":12},
{"k":22,"x":0,"y":0},{"k":22,"x":0.5,"y":-1},{"k":22,"x":1,"y":-2},{"k":22,"x":1.5,"y":-1},{"k":22,"x":2,"y":-3},{"k":22,"x":2.5,"y":-2},{"k":22,"x":3,"y":-4},{"k":22,"x":3.5,"y":-5},{"k":22,"x":4,"y":-3},{"k":22,"x":4.5,"y":-4},{"k":22,"x":5,"y":-5},{"k":22,"x":5.5,"y":-6},{"k":22,"x":6,"y":-4},{"k":22,"x":6.5,"y":-5},{"k":22,"x":7,"y":-6},{"k":22,"x":7.5,"y":-5},{"k":22,"x":8,"y":-7},{"k":22,"x":8.5,"y":-6},{"k":22,"x":9,"y":-8},{"k":22,"x":9.5,"y":-9},{"k":22,"x":10,"y":-10},{"k":22,"x":10.5,"y":-11},{"k":22,"x":11,"y":-4},{"k":22,"x":11.5,"y":-5},{"k":22,"x":12,"y":-6},{"k":22,"x":12.5,"y":-7},{"k":22,"x":13,"y":-8},{"k":22,"x":13.5,"y":-7},{"k":22,"x":14,"y":-9},{"k":22,"x":14.5,"y":-10},{"k":22,"x":15,"y":-9},{"k":22,"x":15.5,"y":-10},{"k":22,"x":16,"y":-11},{"k":22,"x":16.5,"y":-12},{"k":22,"x":17,"y":-13},{"k":22,"x":17.5,"y":-14},{"k":22,"x":18,"y":-15},{"k":22,"x":18.5,"y":-14},{"k":22,"x":19,"y":-12},{"k":22,"x":19.5,"y":-13},{"k":22,"x":20,"y":-14},{"k":22,"x":20.5,"y":-15},{"k":22,"x":21,"y":-13},{"k":22,"x":21.5,"y":-14},{"k":22,"x":22,"y":-16},{"k":22,"x":22.5,"y":-15},{"k":22,"x":23,"y":-10},{"k":22,"x":23.5,"y":-9},{"k":22,"x":24,"y":-9},
{"k":23,"x":0,"y":0},{"k":23,"x":0.5,"y":8},{"k":23,"x":1,"y":7},{"k":23,"x":1.5,"y":6},{"k":23,"x":2,"y":4},{"k":23,"x":2.5,"y":3},{"k":23,"x":3,"y":2},{"k":23,"x":3.5,"y":1},{"k":23,"x":4,"y":0},{"k":23,"x":4.5,"y":-1},{"k":23,"x":5,"y":-2},{"k":23,"x":5.5,"y":-3},{"k":23,"x":6,"y":-4},{"k":23,"x":6.5,"y":-5},{"k":23,"x":7,"y":-6},{"k":23,"x":7.5,"y":-5},{"k":23,"x":8,"y":-7},{"k":23,"x":8.5,"y":-6},{"k":23,"x":9,"y":-5},{"k":23,"x":9.5,"y":-6},{"k":23,"x":10,"y":-8},{"k":23,"x":10.5,"y":-9},{"k":23,"x":11,"y":-7},{"k":23,"x":11.5,"y":-8},{"k":23,"x":12,"y":-9},{"k":23,"x":12.5,"y":-10},{"k":23,"x":13,"y":-6},{"k":23,"x":13.5,"y":-7},{"k":23,"x":14,"y":-5},{"k":23,"x":14.5,"y":-6},{"k":23,"x":15,"y":-6},{"k":23,"x":15.5,"y":-7},{"k":23,"x":16,"y":-8},{"k":23,"x":16.5,"y":-9},{"k":23,"x":17,"y":-10},{"k":23,"x":17.5,"y":-11},{"k":23,"x":18,"y":-13},{"k":23,"x":18.5,"y":-12},{"k":23,"x":19,"y":-14},{"k":23,"x":19.5,"y":-15},{"k":23,"x":20,"y":-13},{"k":23,"x":20.5,"y":-14},{"k":23,"x":21,"y":-12},{"k":23,"x":21.5,"y":-11},{"k":23,"x":22,"y":-10},{"k":23,"x":22.5,"y":-9},{"k":23,"x":23,"y":-8},{"k":23,"x":23.5,"y":-8},{"k":23,"x":24,"y":-8},
{"k":24,"x":0,"y":0},{"k":24,"x":0.5,"y":-1},{"k":24,"x":1,"y":-2},{"k":24,"x":1.5,"y":-1},{"k":24,"x":2,"y":1},{"k":24,"x":2.5,"y":0},{"k":24,"x":3,"y":2},{"k":24,"x":3.5,"y":1},{"k":24,"x":4,"y":0},{"k":24,"x":4.5,"y":2},{"k":24,"x":5,"y":3},{"k":24,"x":5.5,"y":2},{"k":24,"x":6,"y":1},{"k":24,"x":6.5,"y":0},{"k":24,"x":7,"y":2},{"k":24,"x":7.5,"y":1},{"k":24,"x":8,"y":3},{"k":24,"x":8.5,"y":2},{"k":24,"x":9,"y":5},{"k":24,"x":9.5,"y":4},{"k":24,"x":10,"y":6},{"k":24,"x":10.5,"y":5},{"k":24,"x":11,"y":7},{"k":24,"x":11.5,"y":8},{"k":24,"x":12,"y":9},{"k":24,"x":12.5,"y":10},{"k":24,"x":13,"y":12},{"k":24,"x":13.5,"y":13},{"k":24,"x":14,"y":13},{"k":24,"x":14.5,"y":12},{"k":24,"x":15,"y":14},{"k":24,"x":15.5,"y":13},{"k":24,"x":16,"y":15},{"k":24,"x":16.5,"y":16},{"k":24,"x":17,"y":19},{"k":24,"x":17.5,"y":18},{"k":24,"x":18,"y":17},{"k":24,"x":18.5,"y":16},{"k":24,"x":19,"y":18},{"k":24,"x":19.5,"y":17},{"k":24,"x":20,"y":15},{"k":24,"x":20.5,"y":14},{"k":24,"x":21,"y":13},{"k":24,"x":21.5,"y":12},{"k":24,"x":22,"y":12},{"k":24,"x":22.5,"y":11},{"k":24,"x":23,"y":10},{"k":24,"x":23.5,"y":11},{"k":24,"x":24,"y":11},
{"k":25,"x":0,"y":0},{"k":25,"x":0.5,"y":4},{"k":25,"x":1,"y":3},{"k":25,"x":1.5,"y":5},{"k":25,"x":2,"y":7},{"k":25,"x":2.5,"y":6},{"k":25,"x":3,"y":8},{"k":25,"x":3.5,"y":9},{"k":25,"x":4,"y":8},{"k":25,"x":4.5,"y":7},{"k":25,"x":5,"y":9},{"k":25,"x":5.5,"y":8},{"k":25,"x":6,"y":7},{"k":25,"x":6.5,"y":6},{"k":25,"x":7,"y":8},{"k":25,"x":7.5,"y":7},{"k":25,"x":8,"y":6},{"k":25,"x":8.5,"y":9},{"k":25,"x":9,"y":8},{"k":25,"x":9.5,"y":7},{"k":25,"x":10,"y":5},{"k":25,"x":10.5,"y":4},{"k":25,"x":11,"y":6},{"k":25,"x":11.5,"y":5},{"k":25,"x":12,"y":3},{"k":25,"x":12.5,"y":2},{"k":25,"x":13,"y":4},{"k":25,"x":13.5,"y":3},{"k":25,"x":14,"y":6},{"k":25,"x":14.5,"y":5},{"k":25,"x":15,"y":4},{"k":25,"x":15.5,"y":3},{"k":25,"x":16,"y":6},{"k":25,"x":16.5,"y":7},{"k":25,"x":17,"y":9},{"k":25,"x":17.5,"y":10},{"k":25,"x":18,"y":8},{"k":25,"x":18.5,"y":7},{"k":25,"x":19,"y":15},{"k":25,"x":19.5,"y":16},{"k":25,"x":20,"y":17},{"k":25,"x":20.5,"y":16},{"k":25,"x":21,"y":17},{"k":25,"x":21.5,"y":16},{"k":25,"x":22,"y":15},{"k":25,"x":22.5,"y":14},{"k":25,"x":23,"y":16},{"k":25,"x":23.5,"y":19},{"k":25,"x":24,"y":19},
{"k":26,"x":0,"y":0},{"k":26,"x":0.5,"y":-2},{"k":26,"x":1,"y":-1},{"k":26,"x":1.5,"y":-3},{"k":26,"x":2,"y":-4},{"k":26,"x":2.5,"y":-3},{"k":26,"x":3,"y":-5},{"k":26,"x":3.5,"y":-2},{"k":26,"x":4,"y":-3},{"k":26,"x":4.5,"y":-4},{"k":26,"x":5,"y":-2},{"k":26,"x":5.5,"y":-3},{"k":26,"x":6,"y":-5},{"k":26,"x":6.5,"y":-6},{"k":26,"x":7,"y":-4},{"k":26,"x":7.5,"y":-5},{"k":26,"x":8,"y":-6},{"k":26,"x":8.5,"y":-5},{"k":26,"x":9,"y":-7},{"k":26,"x":9.5,"y":-8},{"k":26,"x":10,"y":-9},{"k":26,"x":10.5,"y":-10},{"k":26,"x":11,"y":-8},{"k":26,"x":11.5,"y":-7},{"k":26,"x":12,"y":-9},{"k":26,"x":12.5,"y":-10},{"k":26,"x":13,"y":-11},{"k":26,"x":13.5,"y":-12},{"k":26,"x":14,"y":-10},{"k":26,"x":14.5,"y":-11},{"k":26,"x":15,"y":-11},{"k":26,"x":15.5,"y":-12},{"k":26,"x":16,"y":-13},{"k":26,"x":16.5,"y":-12},{"k":26,"x":17,"y":-11},{"k":26,"x":17.5,"y":-12},{"k":26,"x":18,"y":-10},{"k":26,"x":18.5,"y":-11},{"k":26,"x":19,"y":-11},{"k":26,"x":19.5,"y":-10},{"k":26,"x":20,"y":-12},{"k":26,"x":20.5,"y":-13},{"k":26,"x":21,"y":-14},{"k":26,"x":21.5,"y":-15},{"k":26,"x":22,"y":-17},{"k":26,"x":22.5,"y":-18},{"k":26,"x":23,"y":-16},{"k":26,"x":23.5,"y":-15},{"k":26,"x":24,"y":-15},
{"k":27,"x":0,"y":0},{"k":27,"x":0.5,"y":1},{"k":27,"x":1,"y":2},{"k":27,"x":1.5,"y":0},{"k":27,"x":2,"y":3},{"k":27,"x":2.5,"y":2},{"k":27,"x":3,"y":1},{"k":27,"x":3.5,"y":4},{"k":27,"x":4,"y":3},{"k":27,"x":4.5,"y":2},{"k":27,"x":5,"y":5},{"k":27,"x":5.5,"y":4},{"k":27,"x":6,"y":6},{"k":27,"x":6.5,"y":5},{"k":27,"x":7,"y":3},{"k":27,"x":7.5,"y":2},{"k":27,"x":8,"y":1},{"k":27,"x":8.5,"y":0},{"k":27,"x":9,"y":4},{"k":27,"x":9.5,"y":3},{"k":27,"x":10,"y":5},{"k":27,"x":10.5,"y":6},{"k":27,"x":11,"y":4},{"k":27,"x":11.5,"y":3},{"k":27,"x":12,"y":1},{"k":27,"x":12.5,"y":0},{"k":27,"x":13,"y":2},{"k":27,"x":13.5,"y":1},{"k":27,"x":14,"y":0},{"k":27,"x":14.5,"y":-1},{"k":27,"x":15,"y":2},{"k":27,"x":15.5,"y":1},{"k":27,"x":16,"y":3},{"k":27,"x":16.5,"y":2},{"k":27,"x":17,"y":0},{"k":27,"x":17.5,"y":-1},{"k":27,"x":18,"y":-1},{"k":27,"x":18.5,"y":1},{"k":27,"x":19,"y":2},{"k":27,"x":19.5,"y":1},{"k":27,"x":20,"y":0},{"k":27,"x":20.5,"y":-1},{"k":27,"x":21,"y":1},{"k":27,"x":21.5,"y":0},{"k":27,"x":22,"y":-2},{"k":27,"x":22.5,"y":-1},{"k":27,"x":23,"y":-3},{"k":27,"x":23.5,"y":-3},{"k":27,"x":24,"y":-4},
{"k":28,"x":0,"y":0},{"k":28,"x":0.5,"y":3},{"k":28,"x":1,"y":2},{"k":28,"x":1.5,"y":4},{"k":28,"x":2,"y":5},{"k":28,"x":2.5,"y":4},{"k":28,"x":3,"y":6},{"k":28,"x":3.5,"y":8},{"k":28,"x":4,"y":7},{"k":28,"x":4.5,"y":6},{"k":28,"x":5,"y":5},{"k":28,"x":5.5,"y":8},{"k":28,"x":6,"y":9},{"k":28,"x":6.5,"y":8},{"k":28,"x":7,"y":7},{"k":28,"x":7.5,"y":6},{"k":28,"x":8,"y":5},{"k":28,"x":8.5,"y":4},{"k":28,"x":9,"y":6},{"k":28,"x":9.5,"y":7},{"k":28,"x":10,"y":8},{"k":28,"x":10.5,"y":9},{"k":28,"x":11,"y":7},{"k":28,"x":11.5,"y":6},{"k":28,"x":12,"y":5},{"k":28,"x":12.5,"y":6},{"k":28,"x":13,"y":4},{"k":28,"x":13.5,"y":3},{"k":28,"x":14,"y":5},{"k":28,"x":14.5,"y":2},{"k":28,"x":15,"y":4},{"k":28,"x":15.5,"y":3},{"k":28,"x":16,"y":2},{"k":28,"x":16.5,"y":5},{"k":28,"x":17,"y":6},{"k":28,"x":17.5,"y":5},{"k":28,"x":18,"y":4},{"k":28,"x":18.5,"y":3},{"k":28,"x":19,"y":6},{"k":28,"x":19.5,"y":5},{"k":28,"x":20,"y":4},{"k":28,"x":20.5,"y":7},{"k":28,"x":21,"y":9},{"k":28,"x":21.5,"y":8},{"k":28,"x":22,"y":7},{"k":28,"x":22.5,"y":6},{"k":28,"x":23,"y":5},{"k":28,"x":23.5,"y":4},{"k":28,"x":24,"y":4},
{"k":29,"x":0,"y":0},{"k":29,"x":0.5,"y":1},{"k":29,"x":1,"y":-1},{"k":29,"x":1.5,"y":0},{"k":29,"x":2,"y":-2},{"k":29,"x":2.5,"y":-3},{"k":29,"x":3,"y":-1},{"k":29,"x":3.5,"y":-2},{"k":29,"x":4,"y":-4},{"k":29,"x":4.5,"y":-3},{"k":29,"x":5,"y":-5},{"k":29,"x":5.5,"y":-4},{"k":29,"x":6,"y":-2},{"k":29,"x":6.5,"y":-3},{"k":29,"x":7,"y":-4},{"k":29,"x":7.5,"y":-5},{"k":29,"x":8,"y":-3},{"k":29,"x":8.5,"y":-4},{"k":29,"x":9,"y":-6},{"k":29,"x":9.5,"y":-5},{"k":29,"x":10,"y":-2},{"k":29,"x":10.5,"y":-3},{"k":29,"x":11,"y":-4},{"k":29,"x":11.5,"y":-5},{"k":29,"x":12,"y":-7},{"k":29,"x":12.5,"y":-8},{"k":29,"x":13,"y":-6},{"k":29,"x":13.5,"y":-10},{"k":29,"x":14,"y":-9},{"k":29,"x":14.5,"y":-10},{"k":29,"x":15,"y":-11},{"k":29,"x":15.5,"y":-10},{"k":29,"x":16,"y":-7},{"k":29,"x":16.5,"y":-8},{"k":29,"x":17,"y":-10},{"k":29,"x":17.5,"y":-11},{"k":29,"x":18,"y":-12},{"k":29,"x":18.5,"y":-11},{"k":29,"x":19,"y":-5},{"k":29,"x":19.5,"y":-6},{"k":29,"x":20,"y":-8},{"k":29,"x":20.5,"y":-9},{"k":29,"x":21,"y":-10},{"k":29,"x":21.5,"y":-11},{"k":29,"x":22,"y":-7},{"k":29,"x":22.5,"y":-9},{"k":29,"x":23,"y":-10},{"k":29,"x":23.5,"y":-10},{"k":29,"x":24,"y":-10},
{"k":30,"x":0,"y":0},{"k":30,"x":0.5,"y":2},{"k":30,"x":1,"y":1},{"k":30,"x":1.5,"y":0},{"k":30,"x":2,"y":3},{"k":30,"x":2.5,"y":2},{"k":30,"x":3,"y":4},{"k":30,"x":3.5,"y":5},{"k":30,"x":4,"y":3},{"k":30,"x":4.5,"y":4},{"k":30,"x":5,"y":6},{"k":30,"x":5.5,"y":7},{"k":30,"x":6,"y":5},{"k":30,"x":6.5,"y":6},{"k":30,"x":7,"y":4},{"k":30,"x":7.5,"y":5},{"k":30,"x":8,"y":7},{"k":30,"x":8.5,"y":8},{"k":30,"x":9,"y":6},{"k":30,"x":9.5,"y":7},{"k":30,"x":10,"y":5},{"k":30,"x":10.5,"y":8},{"k":30,"x":11,"y":9},{"k":30,"x":11.5,"y":10},{"k":30,"x":12,"y":8},{"k":30,"x":12.5,"y":9},{"k":30,"x":13,"y":10},{"k":30,"x":13.5,"y":11},{"k":30,"x":14,"y":10},{"k":30,"x":14.5,"y":9},{"k":30,"x":15,"y":8},{"k":30,"x":15.5,"y":7},{"k":30,"x":16,"y":9},{"k":30,"x":16.5,"y":10},{"k":30,"x":17,"y":12},{"k":30,"x":17.5,"y":11},{"k":30,"x":18,"y":9},{"k":30,"x":18.5,"y":8},{"k":30,"x":19,"y":7},{"k":30,"x":19.5,"y":6},{"k":30,"x":20,"y":9},{"k":30,"x":20.5,"y":10},{"k":30,"x":21,"y":8},{"k":30,"x":21.5,"y":7},{"k":30,"x":22,"y":6},{"k":30,"x":22.5,"y":11},{"k":30,"x":23,"y":10},{"k":30,"x":23.5,"y":9},{"k":30,"x":24,"y":9},
{"k":31,"x":0,"y":0},{"k":31,"x":0.5,"y":-1},{"k":31,"x":1,"y":-2},{"k":31,"x":1.5,"y":-3},{"k":31,"x":2,"y":-4},{"k":31,"x":2.5,"y":-3},{"k":31,"x":3,"y":-5},{"k":31,"x":3.5,"y":-6},{"k":31,"x":4,"y":-5},{"k":31,"x":4.5,"y":-7},{"k":31,"x":5,"y":-8},{"k":31,"x":5.5,"y":-9},{"k":31,"x":6,"y":-9},{"k":31,"x":6.5,"y":-8},{"k":31,"x":7,"y":-10},{"k":31,"x":7.5,"y":-9},{"k":31,"x":8,"y":-8},{"k":31,"x":8.5,"y":-9},{"k":31,"x":9,"y":-10},{"k":31,"x":9.5,"y":-11},{"k":31,"x":10,"y":-12},{"k":31,"x":10.5,"y":-11},{"k":31,"x":11,"y":-13},{"k":31,"x":11.5,"y":-14},{"k":31,"x":12,"y":-10},{"k":31,"x":12.5,"y":-11},{"k":31,"x":13,"y":-13},{"k":31,"x":13.5,"y":-12},{"k":31,"x":14,"y":-14},{"k":31,"x":14.5,"y":-15},{"k":31,"x":15,"y":-14},{"k":31,"x":15.5,"y":-13},{"k":31,"x":16,"y":-15},{"k":31,"x":16.5,"y":-16},{"k":31,"x":17,"y":-16},{"k":31,"x":17.5,"y":-17},{"k":31,"x":18,"y":-18},{"k":31,"x":18.5,"y":-19},{"k":31,"x":19,"y":-20},{"k":31,"x":19.5,"y":-21},{"k":31,"x":20,"y":-22},{"k":31,"x":20.5,"y":-23},{"k":31,"x":21,"y":-25},{"k":31,"x":21.5,"y":-20},{"k":31,"x":22,"y":-16},{"k":31,"x":22.5,"y":-17},{"k":31,"x":23,"y":-15},{"k":31,"x":23.5,"y":-14},{"k":31,"x":24,"y":-14},
{"k":32,"x":0,"y":0},{"k":32,"x":0.5,"y":2},{"k":32,"x":1,"y":5},{"k":32,"x":1.5,"y":4},{"k":32,"x":2,"y":3},{"k":32,"x":2.5,"y":2},{"k":32,"x":3,"y":0},{"k":32,"x":3.5,"y":-1},{"k":32,"x":4,"y":-2},{"k":32,"x":4.5,"y":-3},{"k":32,"x":5,"y":-1},{"k":32,"x":5.5,"y":-2},{"k":32,"x":6,"y":1},{"k":32,"x":6.5,"y":0},{"k":32,"x":7,"y":3},{"k":32,"x":7.5,"y":2},{"k":32,"x":8,"y":0},{"k":32,"x":8.5,"y":-1},{"k":32,"x":9,"y":2},{"k":32,"x":9.5,"y":1},{"k":32,"x":10,"y":-1},{"k":32,"x":10.5,"y":-2},{"k":32,"x":11,"y":0},{"k":32,"x":11.5,"y":3},{"k":32,"x":12,"y":2},{"k":32,"x":12.5,"y":1},{"k":32,"x":13,"y":3},{"k":32,"x":13.5,"y":4},{"k":32,"x":14,"y":6},{"k":32,"x":14.5,"y":5},{"k":32,"x":15,"y":4},{"k":32,"x":15.5,"y":3},{"k":32,"x":16,"y":6},{"k":32,"x":16.5,"y":5},{"k":32,"x":17,"y":4},{"k":32,"x":17.5,"y":3},{"k":32,"x":18,"y":2},{"k":32,"x":18.5,"y":1},{"k":32,"x":19,"y":-2},{"k":32,"x":19.5,"y":-3},{"k":32,"x":20,"y":-5},{"k":32,"x":20.5,"y":-6},{"k":32,"x":21,"y":-8},{"k":32,"x":21.5,"y":-9},{"k":32,"x":22,"y":-10},{"k":32,"x":22.5,"y":-11},{"k":32,"x":23,"y":-12},{"k":32,"x":23.5,"y":-12},{"k":32,"x":24,"y":-12},
{"k":33,"x":0,"y":0},{"k":33,"x":0.5,"y":-1},{"k":33,"x":1,"y":0},{"k":33,"x":1.5,"y":1},{"k":33,"x":2,"y":2},{"k":33,"x":2.5,"y":1},{"k":33,"x":3,"y":0},{"k":33,"x":3.5,"y":-1},{"k":33,"x":4,"y":3},{"k":33,"x":4.5,"y":2},{"k":33,"x":5,"y":4},{"k":33,"x":5.5,"y":3},{"k":33,"x":6,"y":5},{"k":33,"x":6.5,"y":4},{"k":33,"x":7,"y":2},{"k":33,"x":7.5,"y":1},{"k":33,"x":8,"y":3},{"k":33,"x":8.5,"y":2},{"k":33,"x":9,"y":4},{"k":33,"x":9.5,"y":3},{"k":33,"x":10,"y":1},{"k":33,"x":10.5,"y":0},{"k":33,"x":11,"y":-2},{"k":33,"x":11.5,"y":-1},{"k":33,"x":12,"y":-3},{"k":33,"x":12.5,"y":-4},{"k":33,"x":13,"y":-5},{"k":33,"x":13.5,"y":-6},{"k":33,"x":14,"y":-7},{"k":33,"x":14.5,"y":-8},{"k":33,"x":15,"y":-9},{"k":33,"x":15.5,"y":-10},{"k":33,"x":16,"y":-11},{"k":33,"x":16.5,"y":-8},{"k":33,"x":17,"y":-9},{"k":33,"x":17.5,"y":-10},{"k":33,"x":18,"y":-8},{"k":33,"x":18.5,"y":-9},{"k":33,"x":19,"y":-11},{"k":33,"x":19.5,"y":-12},{"k":33,"x":20,"y":-13},{"k":33,"x":20.5,"y":-14},{"k":33,"x":21,"y":-15},{"k":33,"x":21.5,"y":-16},{"k":33,"x":22,"y":-17},{"k":33,"x":22.5,"y":-18},{"k":33,"x":23,"y":-19},{"k":33,"x":23.5,"y":-20},{"k":33,"x":24,"y":-20},
{"k":34,"x":0,"y":0},{"k":34,"x":0.5,"y":1},{"k":34,"x":1,"y":3},{"k":34,"x":1.5,"y":4},{"k":34,"x":2,"y":6},{"k":34,"x":2.5,"y":8},{"k":34,"x":3,"y":7},{"k":34,"x":3.5,"y":6},{"k":34,"x":4,"y":8},{"k":34,"x":4.5,"y":7},{"k":34,"x":5,"y":10},{"k":34,"x":5.5,"y":9},{"k":34,"x":6,"y":8},{"k":34,"x":6.5,"y":7},{"k":34,"x":7,"y":9},{"k":34,"x":7.5,"y":8},{"k":34,"x":8,"y":7},{"k":34,"x":8.5,"y":6},{"k":34,"x":9,"y":8},{"k":34,"x":9.5,"y":11},{"k":34,"x":10,"y":10},{"k":34,"x":10.5,"y":9},{"k":34,"x":11,"y":8},{"k":34,"x":11.5,"y":10},{"k":34,"x":12,"y":9},{"k":34,"x":12.5,"y":8},{"k":34,"x":13,"y":10},{"k":34,"x":13.5,"y":9},{"k":34,"x":14,"y":8},{"k":34,"x":14.5,"y":7},{"k":34,"x":15,"y":9},{"k":34,"x":15.5,"y":8},{"k":34,"x":16,"y":10},{"k":34,"x":16.5,"y":11},{"k":34,"x":17,"y":13},{"k":34,"x":17.5,"y":12},{"k":34,"x":18,"y":11},{"k":34,"x":18.5,"y":10},{"k":34,"x":19,"y":12},{"k":34,"x":19.5,"y":13},{"k":34,"x":20,"y":11},{"k":34,"x":20.5,"y":10},{"k":34,"x":21,"y":14},{"k":34,"x":21.5,"y":13},{"k":34,"x":22,"y":15},{"k":34,"x":22.5,"y":14},{"k":34,"x":23,"y":16},{"k":34,"x":23.5,"y":18},{"k":34,"x":24,"y":18},
{"k":35,"x":0,"y":0},{"k":35,"x":24,"y":0},
{"k":36,"x":0,"y":0.6},{"k":36,"x":24,"y":0.6},
{"k":37,"x":0,"y":0},{"k":37,"x":0.5,"y":2},{"k":37,"x":1,"y":1},{"k":37,"x":1.5,"y":3},{"k":37,"x":2,"y":2},{"k":37,"x":2.5,"y":4},{"k":37,"x":3,"y":3},{"k":37,"x":3.5,"y":5},{"k":37,"x":4,"y":4},{"k":37,"x":4.5,"y":3},{"k":37,"x":5,"y":2},{"k":37,"x":5.5,"y":4},{"k":37,"x":6,"y":6},{"k":37,"x":6.5,"y":5},{"k":37,"x":7,"y":4},{"k":37,"x":7.5,"y":3},{"k":37,"x":8,"y":2},{"k":37,"x":8.5,"y":1},{"k":37,"x":9,"y":5},{"k":37,"x":9.5,"y":4},{"k":37,"x":10,"y":3},{"k":37,"x":10.5,"y":2},{"k":37,"x":11,"y":6},{"k":37,"x":11.5,"y":5},{"k":37,"x":12,"y":4},{"k":37,"x":12.5,"y":3},{"k":37,"x":13,"y":2},{"k":37,"x":13.5,"y":4},{"k":37,"x":14,"y":5},{"k":37,"x":14.5,"y":3},{"k":37,"x":15,"y":1},{"k":37,"x":15.5,"y":0},{"k":37,"x":16,"y":2},{"k":37,"x":16.5,"y":1},{"k":37,"x":17,"y":4},{"k":37,"x":17.5,"y":3},{"k":37,"x":18,"y":5},{"k":37,"x":18.5,"y":4},{"k":37,"x":19,"y":2},{"k":37,"x":19.5,"y":3},{"k":37,"x":20,"y":1},{"k":37,"x":20.5,"y":2},{"k":37,"x":21,"y":4},{"k":37,"x":21.5,"y":3},{"k":37,"x":22,"y":2},{"k":37,"x":22.5,"y":1},{"k":37,"x":23,"y":3},{"k":37,"x":23.5,"y":2},{"k":37,"x":24,"y":2},
{"k":38,"x":0,"y":0},{"k":38,"x":0.5,"y":-1},{"k":38,"x":1,"y":0},{"k":38,"x":1.5,"y":-2},{"k":38,"x":2,"y":-1},{"k":38,"x":2.5,"y":-3},{"k":38,"x":3,"y":-2},{"k":38,"x":3.5,"y":-1},{"k":38,"x":4,"y":-3},{"k":38,"x":4.5,"y":-4},{"k":38,"x":5,"y":-2},{"k":38,"x":5.5,"y":-3},{"k":38,"x":6,"y":-5},{"k":38,"x":6.5,"y":-4},{"k":38,"x":7,"y":-3},{"k":38,"x":7.5,"y":-2},{"k":38,"x":8,"y":-4},{"k":38,"x":8.5,"y":-5},{"k":38,"x":9,"y":-1},{"k":38,"x":9.5,"y":-2},{"k":38,"x":10,"y":-3},{"k":38,"x":10.5,"y":-4},{"k":38,"x":11,"y":-2},{"k":38,"x":11.5,"y":-3},{"k":38,"x":12,"y":0},{"k":38,"x":12.5,"y":-1},{"k":38,"x":13,"y":-2},{"k":38,"x":13.5,"y":-3},{"k":38,"x":14,"y":-4},{"k":38,"x":14.5,"y":-3},{"k":38,"x":15,"y":-1},{"k":38,"x":15.5,"y":-2},{"k":38,"x":16,"y":-3},{"k":38,"x":16.5,"y":-4},{"k":38,"x":17,"y":-5},{"k":38,"x":17.5,"y":-4},{"k":38,"x":18,"y":-2},{"k":38,"x":18.5,"y":-3},{"k":38,"x":19,"y":-1},{"k":38,"x":19.5,"y":-2},{"k":38,"x":20,"y":-4},{"k":38,"x":20.5,"y":-5},{"k":38,"x":21,"y":-3},{"k":38,"x":21.5,"y":-2},{"k":38,"x":22,"y":-4},{"k":38,"x":22.5,"y":-3},{"k":38,"x":23,"y":-2},{"k":38,"x":23.5,"y":-3},{"k":38,"x":24,"y":-3},
{"k":39,"x":0,"y":0},{"k":39,"x":0.5,"y":1},{"k":39,"x":1,"y":2},{"k":39,"x":1.5,"y":3},{"k":39,"x":2,"y":2},{"k":39,"x":2.5,"y":4},{"k":39,"x":3,"y":3},{"k":39,"x":3.5,"y":5},{"k":39,"x":4,"y":4},{"k":39,"x":4.5,"y":6},{"k":39,"x":5,"y":5},{"k":39,"x":5.5,"y":7},{"k":39,"x":6,"y":6},{"k":39,"x":6.5,"y":8},{"k":39,"x":7,"y":7},{"k":39,"x":7.5,"y":9},{"k":39,"x":8,"y":8},{"k":39,"x":8.5,"y":10},{"k":39,"x":9,"y":9},{"k":39,"x":9.5,"y":8},{"k":39,"x":10,"y":7},{"k":39,"x":10.5,"y":9},{"k":39,"x":11,"y":10},{"k":39,"x":11.5,"y":9},{"k":39,"x":12,"y":8},{"k":39,"x":12.5,"y":7},{"k":39,"x":13,"y":9},{"k":39,"x":13.5,"y":8},{"k":39,"x":14,"y":10},{"k":39,"x":14.5,"y":9},{"k":39,"x":15,"y":8},{"k":39,"x":15.5,"y":7},{"k":39,"x":16,"y":6},{"k":39,"x":16.5,"y":5},{"k":39,"x":17,"y":7},{"k":39,"x":17.5,"y":6},{"k":39,"x":18,"y":5},{"k":39,"x":18.5,"y":4},{"k":39,"x":19,"y":3},{"k":39,"x":19.5,"y":5},{"k":39,"x":20,"y":4},{"k":39,"x":20.5,"y":3},{"k":39,"x":21,"y":2},{"k":39,"x":21.5,"y":4},{"k":39,"x":22,"y":3},{"k":39,"x":22.5,"y":2},{"k":39,"x":23,"y":4},{"k":39,"x":23.5,"y":3},{"k":39,"x":24,"y":3},
{"k":40,"x":0,"y":0},{"k":40,"x":0.5,"y":-1},{"k":40,"x":1,"y":-2},{"k":40,"x":1.5,"y":-1},{"k":40,"x":2,"y":-3},{"k":40,"x":2.5,"y":-4},{"k":40,"x":3,"y":-3},{"k":40,"x":3.5,"y":-5},{"k":40,"x":4,"y":-6},{"k":40,"x":4.5,"y":-5},{"k":40,"x":5,"y":-4},{"k":40,"x":5.5,"y":-6},{"k":40,"x":6,"y":-5},{"k":40,"x":6.5,"y":-3},{"k":40,"x":7,"y":-4},{"k":40,"x":7.5,"y":-5},{"k":40,"x":8,"y":-6},{"k":40,"x":8.5,"y":-7},{"k":40,"x":9,"y":-5},{"k":40,"x":9.5,"y":-6},{"k":40,"x":10,"y":-4},{"k":40,"x":10.5,"y":-5},{"k":40,"x":11,"y":-7},{"k":40,"x":11.5,"y":-8},{"k":40,"x":12,"y":-6},{"k":40,"x":12.5,"y":-7},{"k":40,"x":13,"y":-5},{"k":40,"x":13.5,"y":-4},{"k":40,"x":14,"y":-6},{"k":40,"x":14.5,"y":-7},{"k":40,"x":15,"y":-8},{"k":40,"x":15.5,"y":-7},{"k":40,"x":16,"y":-9},{"k":40,"x":16.5,"y":-8},{"k":40,"x":17,"y":-6},{"k":40,"x":17.5,"y":-5},{"k":40,"x":18,"y":-7},{"k":40,"x":18.5,"y":-8},{"k":40,"x":19,"y":-6},{"k":40,"x":19.5,"y":-5},{"k":40,"x":20,"y":-7},{"k":40,"x":20.5,"y":-6},{"k":40,"x":21,"y":-4},{"k":40,"x":21.5,"y":-5},{"k":40,"x":22,"y":-6},{"k":40,"x":22.5,"y":-5},{"k":40,"x":23,"y":-4},{"k":40,"x":23.5,"y":-5},{"k":40,"x":24,"y":-5},
{"k":41,"x":0,"y":0},{"k":41,"x":0.5,"y":-1},{"k":41,"x":1,"y":-2},{"k":41,"x":1.5,"y":-3},{"k":41,"x":2,"y":-2},{"k":41,"x":2.5,"y":-4},{"k":41,"x":3,"y":-5},{"k":41,"x":3.5,"y":-4},{"k":41,"x":4,"y":-6},{"k":41,"x":4.5,"y":-7},{"k":41,"x":5,"y":-6},{"k":41,"x":5.5,"y":-5},{"k":41,"x":6,"y":-7},{"k":41,"x":6.5,"y":-8},{"k":41,"x":7,"y":-6},{"k":41,"x":7.5,"y":-7},{"k":41,"x":8,"y":-5},{"k":41,"x":8.5,"y":-6},{"k":41,"x":9,"y":-4},{"k":41,"x":9.5,"y":-5},{"k":41,"x":10,"y":-6},{"k":41,"x":10.5,"y":-7},{"k":41,"x":11,"y":-5},{"k":41,"x":11.5,"y":-6},{"k":41,"x":12,"y":-4},{"k":41,"x":12.5,"y":-3},{"k":41,"x":13,"y":-5},{"k":41,"x":13.5,"y":-4},{"k":41,"x":14,"y":-6},{"k":41,"x":14.5,"y":-5},{"k":41,"x":15,"y":-4},{"k":41,"x":15.5,"y":-3},{"k":41,"x":16,"y":-2},{"k":41,"x":16.5,"y":-3},{"k":41,"x":17,"y":-1},{"k":41,"x":17.5,"y":-2},{"k":41,"x":18,"y":0},{"k":41,"x":18.5,"y":1},{"k":41,"x":19,"y":-1},{"k":41,"x":19.5,"y":0},{"k":41,"x":20,"y":2},{"k":41,"x":20.5,"y":1},{"k":41,"x":21,"y":0},{"k":41,"x":21.5,"y":-1},{"k":41,"x":22,"y":1},{"k":41,"x":22.5,"y":0},{"k":41,"x":23,"y":-1},{"k":41,"x":23.5,"y":0},{"k":41,"x":24,"y":0},
{"k":42,"x":0,"y":0},{"k":42,"x":0.5,"y":1},{"k":42,"x":1,"y":2},{"k":42,"x":1.5,"y":3},{"k":42,"x":2,"y":4},{"k":42,"x":2.5,"y":5},{"k":42,"x":3,"y":6},{"k":42,"x":3.5,"y":5},{"k":42,"x":4,"y":4},{"k":42,"x":4.5,"y":3},{"k":42,"x":5,"y":5},{"k":42,"x":5.5,"y":4},{"k":42,"x":6,"y":6},{"k":42,"x":6.5,"y":8},{"k":42,"x":7,"y":7},{"k":42,"x":7.5,"y":6},{"k":42,"x":8,"y":5},{"k":42,"x":8.5,"y":4},{"k":42,"x":9,"y":8},{"k":42,"x":9.5,"y":9},{"k":42,"x":10,"y":7},{"k":42,"x":10.5,"y":8},{"k":42,"x":11,"y":6},{"k":42,"x":11.5,"y":5},{"k":42,"x":12,"y":4},{"k":42,"x":12.5,"y":7},{"k":42,"x":13,"y":8},{"k":42,"x":13.5,"y":9},{"k":42,"x":14,"y":8},{"k":42,"x":14.5,"y":7},{"k":42,"x":15,"y":6},{"k":42,"x":15.5,"y":8},{"k":42,"x":16,"y":9},{"k":42,"x":16.5,"y":10},{"k":42,"x":17,"y":8},{"k":42,"x":17.5,"y":7},{"k":42,"x":18,"y":6},{"k":42,"x":18.5,"y":9},{"k":42,"x":19,"y":10},{"k":42,"x":19.5,"y":9},{"k":42,"x":20,"y":8},{"k":42,"x":20.5,"y":7},{"k":42,"x":21,"y":9},{"k":42,"x":21.5,"y":10},{"k":42,"x":22,"y":12},{"k":42,"x":22.5,"y":11},{"k":42,"x":23,"y":10},{"k":42,"x":23.5,"y":11},{"k":42,"x":24,"y":11},
{"k":43,"x":0,"y":0},{"k":43,"x":0.5,"y":-1},{"k":43,"x":1,"y":-2},{"k":43,"x":1.5,"y":-3},{"k":43,"x":2,"y":-4},{"k":43,"x":2.5,"y":-5},{"k":43,"x":3,"y":-6},{"k":43,"x":3.5,"y":-5},{"k":43,"x":4,"y":-7},{"k":43,"x":4.5,"y":-8},{"k":43,"x":5,"y":-9},{"k":43,"x":5.5,"y":-10},{"k":43,"x":6,"y":-8},{"k":43,"x":6.5,"y":-9},{"k":43,"x":7,"y":-10},{"k":43,"x":7.5,"y":-9},{"k":43,"x":8,"y":-7},{"k":43,"x":8.5,"y":-8},{"k":43,"x":9,"y":-6},{"k":43,"x":9.5,"y":-7},{"k":43,"x":10,"y":-8},{"k":43,"x":10.5,"y":-9},{"k":43,"x":11,"y":-10},{"k":43,"x":11.5,"y":-8},{"k":43,"x":12,"y":-6},{"k":43,"x":12.5,"y":-7},{"k":43,"x":13,"y":-9},{"k":43,"x":13.5,"y":-8},{"k":43,"x":14,"y":-10},{"k":43,"x":14.5,"y":-9},{"k":43,"x":15,"y":-7},{"k":43,"x":15.5,"y":-8},{"k":43,"x":16,"y":-9},{"k":43,"x":16.5,"y":-8},{"k":43,"x":17,"y":-7},{"k":43,"x":17.5,"y":-6},{"k":43,"x":18,"y":-5},{"k":43,"x":18.5,"y":-6},{"k":43,"x":19,"y":-7},{"k":43,"x":19.5,"y":-8},{"k":43,"x":20,"y":-6},{"k":43,"x":20.5,"y":-5},{"k":43,"x":21,"y":-4},{"k":43,"x":21.5,"y":-5},{"k":43,"x":22,"y":-3},{"k":43,"x":22.5,"y":-4},{"k":43,"x":23,"y":-5},{"k":43,"x":23.5,"y":-4},{"k":43,"x":24,"y":-4},
{"k":44,"x":0,"y":0},{"k":44,"x":0.5,"y":2},{"k":44,"x":1,"y":3},{"k":44,"x":1.5,"y":4},{"k":44,"x":2,"y":6},{"k":44,"x":2.5,"y":8},{"k":44,"x":3,"y":7},{"k":44,"x":3.5,"y":6},{"k":44,"x":4,"y":5},{"k":44,"x":4.5,"y":6},{"k":44,"x":5,"y":4},{"k":44,"x":5.5,"y":5},{"k":44,"x":6,"y":3},{"k":44,"x":6.5,"y":4},{"k":44,"x":7,"y":5},{"k":44,"x":7.5,"y":6},{"k":44,"x":8,"y":4},{"k":44,"x":8.5,"y":3},{"k":44,"x":9,"y":2},{"k":44,"x":9.5,"y":3},{"k":44,"x":10,"y":4},{"k":44,"x":10.5,"y":3},{"k":44,"x":11,"y":5},{"k":44,"x":11.5,"y":6},{"k":44,"x":12,"y":7},{"k":44,"x":12.5,"y":6},{"k":44,"x":13,"y":5},{"k":44,"x":13.5,"y":4},{"k":44,"x":14,"y":6},{"k":44,"x":14.5,"y":5},{"k":44,"x":15,"y":7},{"k":44,"x":15.5,"y":8},{"k":44,"x":16,"y":9},{"k":44,"x":16.5,"y":10},{"k":44,"x":17,"y":8},{"k":44,"x":17.5,"y":9},{"k":44,"x":18,"y":7},{"k":44,"x":18.5,"y":8},{"k":44,"x":19,"y":10},{"k":44,"x":19.5,"y":9},{"k":44,"x":20,"y":8},{"k":44,"x":20.5,"y":7},{"k":44,"x":21,"y":9},{"k":44,"x":21.5,"y":8},{"k":44,"x":22,"y":7},{"k":44,"x":22.5,"y":8},{"k":44,"x":23,"y":6},{"k":44,"x":23.5,"y":8},{"k":44,"x":24,"y":8},
{"k":45,"x":0,"y":0},{"k":45,"x":0.5,"y":3},{"k":45,"x":1,"y":4},{"k":45,"x":1.5,"y":5},{"k":45,"x":2,"y":7},{"k":45,"x":2.5,"y":6},{"k":45,"x":3,"y":5},{"k":45,"x":3.5,"y":6},{"k":45,"x":4,"y":4},{"k":45,"x":4.5,"y":6},{"k":45,"x":5,"y":7},{"k":45,"x":5.5,"y":9},{"k":45,"x":6,"y":8},{"k":45,"x":6.5,"y":7},{"k":45,"x":7,"y":6},{"k":45,"x":7.5,"y":5},{"k":45,"x":8,"y":9},{"k":45,"x":8.5,"y":8},{"k":45,"x":9,"y":6},{"k":45,"x":9.5,"y":7},{"k":45,"x":10,"y":5},{"k":45,"x":10.5,"y":4},{"k":45,"x":11,"y":3},{"k":45,"x":11.5,"y":2},{"k":45,"x":12,"y":1},{"k":45,"x":12.5,"y":0},{"k":45,"x":13,"y":-1},{"k":45,"x":13.5,"y":2},{"k":45,"x":14,"y":1},{"k":45,"x":14.5,"y":0},{"k":45,"x":15,"y":-1},{"k":45,"x":15.5,"y":-2},{"k":45,"x":16,"y":0},{"k":45,"x":16.5,"y":-1},{"k":45,"x":17,"y":2},{"k":45,"x":17.5,"y":1},{"k":45,"x":18,"y":3},{"k":45,"x":18.5,"y":2},{"k":45,"x":19,"y":0},{"k":45,"x":19.5,"y":-1},{"k":45,"x":20,"y":1},{"k":45,"x":20.5,"y":2},{"k":45,"x":21,"y":3},{"k":45,"x":21.5,"y":1},{"k":45,"x":22,"y":2},{"k":45,"x":22.5,"y":3},{"k":45,"x":23,"y":2},{"k":45,"x":23.5,"y":2},{"k":45,"x":24,"y":2}
]},
"layer": [
  {
    "mark": {"type": "line", "strokeWidth": 1, "clip": true},
    "encoding": {
      "x": {"field": "x", "type": "quantitative", "scale": {"domain": [0, 23.75], "nice": false, "zero": false},
            "axis": {"orient": "bottom", "values": [0,1,2,3,4,5,6,7,8,9,10,11,12,13,14,15,16,17,18,19,20,21,22,23], "ticks": true, "labelPadding": 7, "title": "Hour of Day", "titlePadding": 4, "labelFlush": false}},
      "y": {"field": "y", "type": "quantitative", "scale": {"domain": [-40, 40], "nice": false},
            "axis": {"orient": "left", "values": [-40,-30,-20,-10,0,10,20,30,40], "ticks": true, "labelPadding": 8, "title": "Cumulative (Z*Z)-1", "titlePadding": 6}},
      "color": {"field": "k", "type": "nominal", "legend": null,
        "scale": {"domain": [1,2,3,4,5,6,7,8,9,10,11,12,13,14,15,16,17,18,19,20,21,22,23,24,25,26,27,28,29,30,31,32,33,34,35,36,37,38,39,40,41,42,43,44,45],
                  "range": ["#a00000","#ffff00","#ff0000","#a00000","#a00000","#00ffff","#ff0000","#00a000","#00ffff","#000000","#0000ff","#6060ff","#0000ff","#6060ff","#ff00ff","#ff00ff","#ff00ff","#00a000","#00a000","#00a000","#ffff00","#ffff00","#00ffff","#00ffff","#ff0000","#ff0000","#ff0000","#a00000","#0000ff","#0000ff","#0000ff","#6060ff","#6060ff","#ff0000","#ff0000","#0000ff","#ff0000","#0000ff","#00a000","#00ffff","#ff00ff","#a00000","#6060ff","#ffff00","#0000ff"]}}
    }
  },
  {
    "transform": [{"filter": "datum.k == 35"}],
    "mark": {"type": "line", "opacity": 0},
    "encoding": {
      "x": {"field": "x", "type": "quantitative", "axis": {"orient": "top", "values": [0,1,2,3,4,5,6,7,8,9,10,11,12,13,14,15,16,17,18,19,20,21,22,23], "ticks": true, "labels": false, "title": null}},
      "y": {"field": "y", "type": "quantitative", "axis": {"orient": "right", "values": [-40,-30,-20,-10,0,10,20,30,40], "ticks": true, "labels": false, "title": null}}
    }
  }
],
"resolve": {"axis": {"x": "independent", "y": "independent"}}
}
